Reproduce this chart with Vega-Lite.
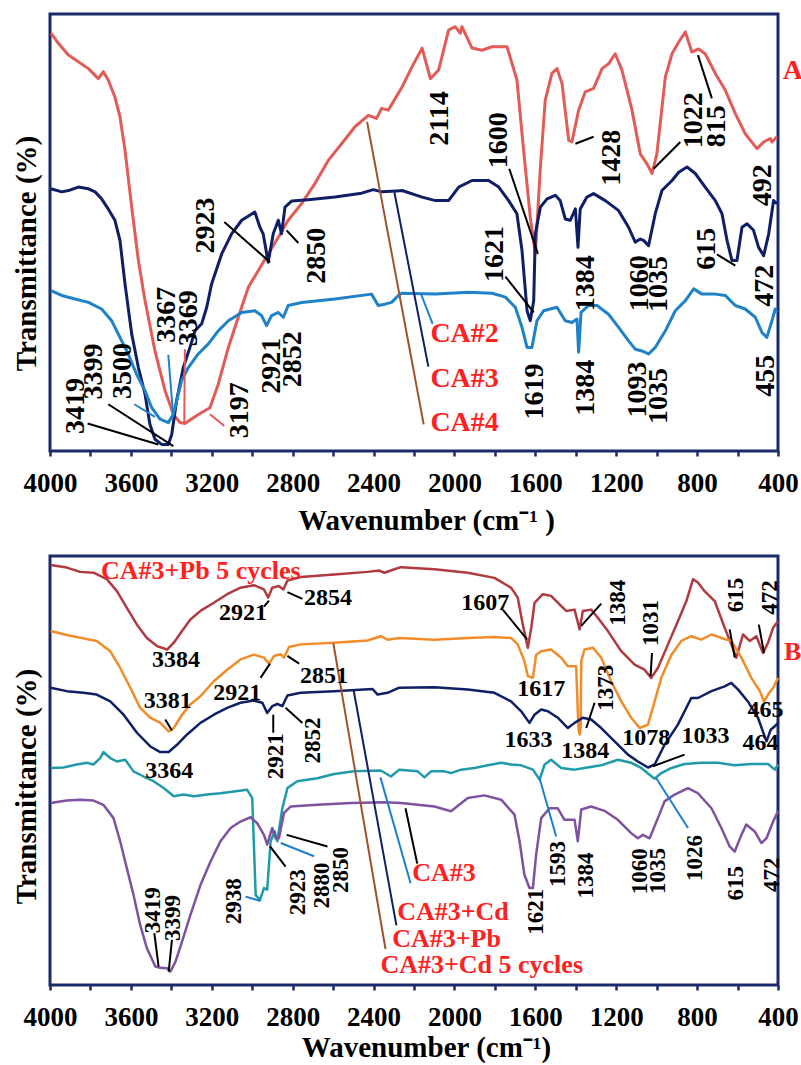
{
"$schema": "https://vega.github.io/schema/vega-lite/v6.json",
"autosize": {"type": "pad"},
"padding": {"left": 10, "top": 12, "right": 0, "bottom": 0},
"background": "white",
"bounds": "flush",
"spacing": 105,
"config": {"view": {"stroke": "#1B2A6B", "strokeWidth": 3}, "font": "Liberation Serif"},
"datasets": {
"topCurves": [
{"series":"CA#4","w":3995,"t":95.6},{"series":"CA#4","w":3959,"t":93.3},{"series":"CA#4","w":3909,"t":90.6},{"series":"CA#4","w":3860,"t":89.1},{"series":"CA#4","w":3810,"t":87.5},{"series":"CA#4","w":3761,"t":85.2},{"series":"CA#4","w":3736,"t":86.8},{"series":"CA#4","w":3712,"t":84.9},{"series":"CA#4","w":3679,"t":81.0},{"series":"CA#4","w":3654,"t":76.5},{"series":"CA#4","w":3629,"t":68.8},{"series":"CA#4","w":3596,"t":55.8},{"series":"CA#4","w":3563,"t":43.6},{"series":"CA#4","w":3530,"t":34.4},{"series":"CA#4","w":3481,"t":22.9},{"series":"CA#4","w":3431,"t":13.8},{"series":"CA#4","w":3390,"t":8.4},{"series":"CA#4","w":3357,"t":6.5},{"series":"CA#4","w":3333,"t":6.3},{"series":"CA#4","w":3291,"t":7.6},{"series":"CA#4","w":3250,"t":8.8},{"series":"CA#4","w":3209,"t":9.9},{"series":"CA#4","w":3168,"t":15.3},{"series":"CA#4","w":3118,"t":23.7},{"series":"CA#4","w":3069,"t":30.6},{"series":"CA#4","w":3019,"t":37.5},{"series":"CA#4","w":2970,"t":41.3},{"series":"CA#4","w":2921,"t":45.1},{"series":"CA#4","w":2871,"t":48.9},{"series":"CA#4","w":2822,"t":52.8},{"series":"CA#4","w":2756,"t":56.6},{"series":"CA#4","w":2690,"t":61.2},{"series":"CA#4","w":2624,"t":66.5},{"series":"CA#4","w":2558,"t":70.3},{"series":"CA#4","w":2492,"t":74.2},{"series":"CA#4","w":2426,"t":76.8},{"series":"CA#4","w":2385,"t":76.1},{"series":"CA#4","w":2360,"t":78.4},{"series":"CA#4","w":2327,"t":78.0},{"series":"CA#4","w":2259,"t":83.3},{"series":"CA#4","w":2210,"t":87.9},{"series":"CA#4","w":2160,"t":92.2},{"series":"CA#4","w":2119,"t":85.2},{"series":"CA#4","w":2078,"t":87.2},{"series":"CA#4","w":2029,"t":96.3},{"series":"CA#4","w":1996,"t":97.1},{"series":"CA#4","w":1971,"t":95.6},{"series":"CA#4","w":1963,"t":97.1},{"series":"CA#4","w":1913,"t":92.2},{"series":"CA#4","w":1864,"t":91.7},{"series":"CA#4","w":1814,"t":92.5},{"series":"CA#4","w":1740,"t":92.5},{"series":"CA#4","w":1691,"t":84.9},{"series":"CA#4","w":1658,"t":68.8},{"series":"CA#4","w":1625,"t":53.5},{"series":"CA#4","w":1600,"t":45.1},{"series":"CA#4","w":1575,"t":65.0},{"series":"CA#4","w":1551,"t":80.3},{"series":"CA#4","w":1518,"t":86.4},{"series":"CA#4","w":1493,"t":87.5},{"series":"CA#4","w":1468,"t":84.1},{"series":"CA#4","w":1435,"t":71.1},{"series":"CA#4","w":1419,"t":70.7},{"series":"CA#4","w":1386,"t":78.0},{"series":"CA#4","w":1353,"t":82.2},{"series":"CA#4","w":1312,"t":83.0},{"series":"CA#4","w":1270,"t":87.5},{"series":"CA#4","w":1238,"t":88.6},{"series":"CA#4","w":1205,"t":90.9},{"series":"CA#4","w":1172,"t":87.2},{"series":"CA#4","w":1122,"t":78.0},{"series":"CA#4","w":1081,"t":68.0},{"series":"CA#4","w":1048,"t":65.7},{"series":"CA#4","w":1023,"t":63.5},{"series":"CA#4","w":999,"t":68.0},{"series":"CA#4","w":957,"t":85.6},{"series":"CA#4","w":924,"t":90.9},{"series":"CA#4","w":891,"t":93.6},{"series":"CA#4","w":858,"t":95.9},{"series":"CA#4","w":826,"t":91.3},{"series":"CA#4","w":793,"t":92.0},{"series":"CA#4","w":760,"t":90.9},{"series":"CA#4","w":710,"t":86.4},{"series":"CA#4","w":661,"t":82.6},{"series":"CA#4","w":611,"t":77.2},{"series":"CA#4","w":562,"t":72.6},{"series":"CA#4","w":504,"t":69.2},{"series":"CA#4","w":471,"t":70.7},{"series":"CA#4","w":438,"t":71.5},{"series":"CA#4","w":430,"t":70.7},{"series":"CA#4","w":405,"t":71.9},
{"series":"CA#3","w":3995,"t":60.0},{"series":"CA#3","w":3942,"t":59.3},{"series":"CA#3","w":3909,"t":59.6},{"series":"CA#3","w":3860,"t":60.4},{"series":"CA#3","w":3810,"t":60.0},{"series":"CA#3","w":3777,"t":59.3},{"series":"CA#3","w":3745,"t":57.7},{"series":"CA#3","w":3712,"t":55.4},{"series":"CA#3","w":3679,"t":52.8},{"series":"CA#3","w":3654,"t":48.2},{"series":"CA#3","w":3629,"t":38.2},{"series":"CA#3","w":3596,"t":26.8},{"series":"CA#3","w":3563,"t":19.1},{"series":"CA#3","w":3530,"t":13.0},{"series":"CA#3","w":3506,"t":6.1},{"series":"CA#3","w":3481,"t":2.7},{"series":"CA#3","w":3448,"t":1.5},{"series":"CA#3","w":3415,"t":1.5},{"series":"CA#3","w":3398,"t":3.8},{"series":"CA#3","w":3374,"t":11.5},{"series":"CA#3","w":3341,"t":19.1},{"series":"CA#3","w":3308,"t":23.7},{"series":"CA#3","w":3283,"t":27.5},{"series":"CA#3","w":3250,"t":29.1},{"series":"CA#3","w":3225,"t":32.9},{"series":"CA#3","w":3201,"t":38.2},{"series":"CA#3","w":3151,"t":45.1},{"series":"CA#3","w":3102,"t":49.7},{"series":"CA#3","w":3052,"t":52.8},{"series":"CA#3","w":2987,"t":54.7},{"series":"CA#3","w":2962,"t":51.2},{"series":"CA#3","w":2946,"t":49.7},{"series":"CA#3","w":2921,"t":43.2},{"series":"CA#3","w":2896,"t":49.7},{"series":"CA#3","w":2871,"t":52.8},{"series":"CA#3","w":2855,"t":49.7},{"series":"CA#3","w":2838,"t":55.8},{"series":"CA#3","w":2805,"t":57.2},{"series":"CA#3","w":2723,"t":57.5},{"series":"CA#3","w":2591,"t":58.1},{"series":"CA#3","w":2459,"t":59.0},{"series":"CA#3","w":2401,"t":59.8},{"series":"CA#3","w":2360,"t":59.3},{"series":"CA#3","w":2286,"t":59.5},{"series":"CA#3","w":2259,"t":59.6},{"series":"CA#3","w":2160,"t":58.1},{"series":"CA#3","w":2094,"t":57.3},{"series":"CA#3","w":2029,"t":57.3},{"series":"CA#3","w":1979,"t":60.4},{"series":"CA#3","w":1913,"t":61.9},{"series":"CA#3","w":1831,"t":61.9},{"series":"CA#3","w":1781,"t":60.4},{"series":"CA#3","w":1732,"t":57.3},{"series":"CA#3","w":1691,"t":54.3},{"series":"CA#3","w":1666,"t":45.9},{"series":"CA#3","w":1641,"t":32.1},{"series":"CA#3","w":1625,"t":29.8},{"series":"CA#3","w":1608,"t":34.4},{"series":"CA#3","w":1600,"t":49.7},{"series":"CA#3","w":1575,"t":55.8},{"series":"CA#3","w":1542,"t":57.7},{"series":"CA#3","w":1501,"t":58.5},{"series":"CA#3","w":1477,"t":57.3},{"series":"CA#3","w":1452,"t":53.1},{"series":"CA#3","w":1427,"t":52.8},{"series":"CA#3","w":1402,"t":55.4},{"series":"CA#3","w":1389,"t":46.6},{"series":"CA#3","w":1378,"t":55.4},{"series":"CA#3","w":1345,"t":58.1},{"series":"CA#3","w":1312,"t":58.9},{"series":"CA#3","w":1254,"t":57.3},{"series":"CA#3","w":1188,"t":55.0},{"series":"CA#3","w":1139,"t":51.2},{"series":"CA#3","w":1106,"t":47.8},{"series":"CA#3","w":1081,"t":48.5},{"series":"CA#3","w":1065,"t":48.2},{"series":"CA#3","w":1040,"t":47.0},{"series":"CA#3","w":1007,"t":54.3},{"series":"CA#3","w":974,"t":59.6},{"series":"CA#3","w":924,"t":61.9},{"series":"CA#3","w":891,"t":63.8},{"series":"CA#3","w":850,"t":65.0},{"series":"CA#3","w":809,"t":63.5},{"series":"CA#3","w":760,"t":60.4},{"series":"CA#3","w":710,"t":57.3},{"series":"CA#3","w":677,"t":54.3},{"series":"CA#3","w":652,"t":48.2},{"series":"CA#3","w":628,"t":43.6},{"series":"CA#3","w":603,"t":43.6},{"series":"CA#3","w":578,"t":51.2},{"series":"CA#3","w":553,"t":52.0},{"series":"CA#3","w":521,"t":50.5},{"series":"CA#3","w":496,"t":46.6},{"series":"CA#3","w":471,"t":44.7},{"series":"CA#3","w":446,"t":49.7},{"series":"CA#3","w":422,"t":57.3},{"series":"CA#3","w":405,"t":56.6},
{"series":"CA#2","w":3995,"t":36.7},{"series":"CA#2","w":3942,"t":35.6},{"series":"CA#2","w":3876,"t":34.8},{"series":"CA#2","w":3810,"t":34.0},{"series":"CA#2","w":3745,"t":32.5},{"series":"CA#2","w":3695,"t":29.8},{"series":"CA#2","w":3654,"t":26.0},{"series":"CA#2","w":3613,"t":22.2},{"series":"CA#2","w":3572,"t":17.6},{"series":"CA#2","w":3530,"t":13.8},{"series":"CA#2","w":3497,"t":9.9},{"series":"CA#2","w":3456,"t":7.3},{"series":"CA#2","w":3415,"t":6.5},{"series":"CA#2","w":3390,"t":8.4},{"series":"CA#2","w":3349,"t":16.1},{"series":"CA#2","w":3316,"t":19.1},{"series":"CA#2","w":3267,"t":22.2},{"series":"CA#2","w":3217,"t":24.5},{"series":"CA#2","w":3168,"t":27.5},{"series":"CA#2","w":3118,"t":29.8},{"series":"CA#2","w":3052,"t":31.7},{"series":"CA#2","w":2987,"t":32.1},{"series":"CA#2","w":2954,"t":31.0},{"series":"CA#2","w":2929,"t":28.7},{"series":"CA#2","w":2904,"t":31.0},{"series":"CA#2","w":2871,"t":31.7},{"series":"CA#2","w":2846,"t":30.6},{"series":"CA#2","w":2822,"t":33.3},{"series":"CA#2","w":2756,"t":34.0},{"series":"CA#2","w":2591,"t":34.8},{"series":"CA#2","w":2410,"t":35.9},{"series":"CA#2","w":2377,"t":33.3},{"series":"CA#2","w":2344,"t":33.6},{"series":"CA#2","w":2311,"t":34.0},{"series":"CA#2","w":2270,"t":35.9},{"series":"CA#2","w":2259,"t":36.1},{"series":"CA#2","w":2094,"t":35.9},{"series":"CA#2","w":1930,"t":36.3},{"series":"CA#2","w":1814,"t":36.1},{"series":"CA#2","w":1748,"t":35.2},{"series":"CA#2","w":1699,"t":32.9},{"series":"CA#2","w":1666,"t":28.3},{"series":"CA#2","w":1641,"t":23.7},{"series":"CA#2","w":1617,"t":23.7},{"series":"CA#2","w":1592,"t":29.8},{"series":"CA#2","w":1559,"t":32.1},{"series":"CA#2","w":1526,"t":32.5},{"series":"CA#2","w":1493,"t":32.9},{"series":"CA#2","w":1452,"t":29.8},{"series":"CA#2","w":1419,"t":29.4},{"series":"CA#2","w":1394,"t":30.2},{"series":"CA#2","w":1386,"t":22.6},{"series":"CA#2","w":1374,"t":31.7},{"series":"CA#2","w":1336,"t":33.3},{"series":"CA#2","w":1295,"t":33.3},{"series":"CA#2","w":1238,"t":31.3},{"series":"CA#2","w":1188,"t":28.3},{"series":"CA#2","w":1139,"t":25.2},{"series":"CA#2","w":1106,"t":23.3},{"series":"CA#2","w":1073,"t":22.9},{"series":"CA#2","w":1040,"t":22.2},{"series":"CA#2","w":1007,"t":23.7},{"series":"CA#2","w":957,"t":27.5},{"series":"CA#2","w":908,"t":32.1},{"series":"CA#2","w":858,"t":34.4},{"series":"CA#2","w":817,"t":37.1},{"series":"CA#2","w":776,"t":35.9},{"series":"CA#2","w":710,"t":35.9},{"series":"CA#2","w":661,"t":35.6},{"series":"CA#2","w":611,"t":33.3},{"series":"CA#2","w":562,"t":32.5},{"series":"CA#2","w":512,"t":30.6},{"series":"CA#2","w":479,"t":27.1},{"series":"CA#2","w":455,"t":26.0},{"series":"CA#2","w":430,"t":29.8},{"series":"CA#2","w":414,"t":32.5},{"series":"CA#2","w":405,"t":31.7}
],
"topLeaders": [
{"kind":"peak","w":3814,"t":6.3,"w2":3464,"t2":1.5},
{"kind":"peak","w":3712,"t":10.7,"w2":3390,"t2":1.1},
{"kind":"CA#2","w":3583,"t":10.7,"w2":3481,"t2":7.8},
{"kind":"CA#2","w":3415,"t":22.0,"w2":3390,"t2":7.6},
{"kind":"CA#4","w":3333,"t":23.3,"w2":3336,"t2":6.5},
{"kind":"peak","w":3138,"t":52.4,"w2":2912,"t2":43.2},
{"kind":"peak","w":2830,"t":50.5,"w2":2772,"t2":47.6},
{"kind":"CA#4","w":3209,"t":8.4,"w2":3138,"t2":5.7},
{"kind":"CA#4 label","w":2432,"t":75.3,"w2":2152,"t2":6.1},
{"kind":"CA#3","w":2297,"t":59.2,"w2":2129,"t2":19.3},
{"kind":"CA#2","w":2165,"t":35.9,"w2":2108,"t2":29.1},
{"kind":"peak","w":1729,"t":64.6,"w2":1587,"t2":45.1},
{"kind":"peak","w":1402,"t":70.3,"w2":1312,"t2":71.9},
{"kind":"peak","w":883,"t":70.7,"w2":1015,"t2":64.6},
{"kind":"peak","w":796,"t":90.6,"w2":727,"t2":80.7},
{"kind":"peak","w":1748,"t":39.9,"w2":1608,"t2":31.7},
{"kind":"peak","w":702,"t":45.0,"w2":611,"t2":42.4}
],
"topLabels": [
{"label":"3419","w":3873,"t":10.3},{"label":"3399","w":3781,"t":18.2},{"label":"3500","w":3637,"t":18.3},{"label":"3367","w":3420,"t":31.2},{"label":"3369","w":3313,"t":30.4},{"label":"2923","w":3230,"t":51.6},{"label":"2850","w":2678,"t":44.7},{"label":"3197","w":3061,"t":9.3},{"label":"2921","w":2904,"t":19.5},{"label":"2852","w":2800,"t":21.0},{"label":"2114","w":2070,"t":76.1},{"label":"1600","w":1781,"t":71.1},{"label":"1428","w":1221,"t":67.1},{"label":"1022","w":817,"t":75.7},{"label":"815","w":702,"t":74.3},{"label":"492","w":476,"t":60.8},{"label":"1621","w":1798,"t":45.1},{"label":"1384","w":1350,"t":38.4},{"label":"1060","w":1081,"t":38.4},{"label":"1035","w":987,"t":38.2},{"label":"615","w":751,"t":46.3},{"label":"472","w":463,"t":37.8},{"label":"1619","w":1600,"t":13.6},{"label":"1384","w":1350,"t":14.5},{"label":"1093","w":1094,"t":14.1},{"label":"1035","w":990,"t":12.6},{"label":"455","w":460,"t":17.2}
],
"topNames": [
{"label":"CA#2","w":2119,"t":26.8},{"label":"CA#3","w":2119,"t":16.4},{"label":"CA#4","w":2119,"t":6.5},{"label":"A","w":377,"t":87.0}
],
"botCurves": [
{"series":"CA#3+Pb 5 cycles","w":3997,"t":97.9},{"series":"CA#3+Pb 5 cycles","w":3917,"t":97.3},{"series":"CA#3+Pb 5 cycles","w":3851,"t":96.3},{"series":"CA#3+Pb 5 cycles","w":3785,"t":96.1},{"series":"CA#3+Pb 5 cycles","w":3719,"t":94.6},{"series":"CA#3+Pb 5 cycles","w":3669,"t":91.8},{"series":"CA#3+Pb 5 cycles","w":3620,"t":87.9},{"series":"CA#3+Pb 5 cycles","w":3570,"t":84.0},{"series":"CA#3+Pb 5 cycles","w":3521,"t":80.9},{"series":"CA#3+Pb 5 cycles","w":3471,"t":79.0},{"series":"CA#3+Pb 5 cycles","w":3421,"t":78.2},{"series":"CA#3+Pb 5 cycles","w":3388,"t":79.8},{"series":"CA#3+Pb 5 cycles","w":3347,"t":82.5},{"series":"CA#3+Pb 5 cycles","w":3306,"t":85.2},{"series":"CA#3+Pb 5 cycles","w":3256,"t":87.2},{"series":"CA#3+Pb 5 cycles","w":3190,"t":89.1},{"series":"CA#3+Pb 5 cycles","w":3124,"t":91.1},{"series":"CA#3+Pb 5 cycles","w":3058,"t":92.6},{"series":"CA#3+Pb 5 cycles","w":2992,"t":93.2},{"series":"CA#3+Pb 5 cycles","w":2942,"t":92.2},{"series":"CA#3+Pb 5 cycles","w":2921,"t":90.3},{"series":"CA#3+Pb 5 cycles","w":2901,"t":92.6},{"series":"CA#3+Pb 5 cycles","w":2868,"t":93.0},{"series":"CA#3+Pb 5 cycles","w":2846,"t":92.2},{"series":"CA#3+Pb 5 cycles","w":2826,"t":94.3},{"series":"CA#3+Pb 5 cycles","w":2760,"t":95.1},{"series":"CA#3+Pb 5 cycles","w":2595,"t":95.7},{"series":"CA#3+Pb 5 cycles","w":2430,"t":96.3},{"series":"CA#3+Pb 5 cycles","w":2372,"t":96.6},{"series":"CA#3+Pb 5 cycles","w":2347,"t":96.1},{"series":"CA#3+Pb 5 cycles","w":2297,"t":96.9},{"series":"CA#3+Pb 5 cycles","w":2264,"t":97.4},{"series":"CA#3+Pb 5 cycles","w":2099,"t":96.9},{"series":"CA#3+Pb 5 cycles","w":1934,"t":96.1},{"series":"CA#3+Pb 5 cycles","w":1802,"t":94.9},{"series":"CA#3+Pb 5 cycles","w":1720,"t":92.6},{"series":"CA#3+Pb 5 cycles","w":1687,"t":90.3},{"series":"CA#3+Pb 5 cycles","w":1662,"t":84.0},{"series":"CA#3+Pb 5 cycles","w":1637,"t":78.6},{"series":"CA#3+Pb 5 cycles","w":1620,"t":83.3},{"series":"CA#3+Pb 5 cycles","w":1604,"t":89.1},{"series":"CA#3+Pb 5 cycles","w":1563,"t":91.1},{"series":"CA#3+Pb 5 cycles","w":1522,"t":90.7},{"series":"CA#3+Pb 5 cycles","w":1480,"t":88.7},{"series":"CA#3+Pb 5 cycles","w":1447,"t":87.2},{"series":"CA#3+Pb 5 cycles","w":1406,"t":87.5},{"series":"CA#3+Pb 5 cycles","w":1381,"t":82.9},{"series":"CA#3+Pb 5 cycles","w":1365,"t":87.2},{"series":"CA#3+Pb 5 cycles","w":1324,"t":87.5},{"series":"CA#3+Pb 5 cycles","w":1291,"t":85.6},{"series":"CA#3+Pb 5 cycles","w":1241,"t":82.5},{"series":"CA#3+Pb 5 cycles","w":1175,"t":77.8},{"series":"CA#3+Pb 5 cycles","w":1109,"t":74.7},{"series":"CA#3+Pb 5 cycles","w":1060,"t":73.5},{"series":"CA#3+Pb 5 cycles","w":1027,"t":71.6},{"series":"CA#3+Pb 5 cycles","w":994,"t":73.9},{"series":"CA#3+Pb 5 cycles","w":944,"t":79.4},{"series":"CA#3+Pb 5 cycles","w":895,"t":84.8},{"series":"CA#3+Pb 5 cycles","w":853,"t":89.5},{"series":"CA#3+Pb 5 cycles","w":820,"t":94.6},{"series":"CA#3+Pb 5 cycles","w":796,"t":93.8},{"series":"CA#3+Pb 5 cycles","w":763,"t":91.8},{"series":"CA#3+Pb 5 cycles","w":713,"t":89.5},{"series":"CA#3+Pb 5 cycles","w":664,"t":83.3},{"series":"CA#3+Pb 5 cycles","w":631,"t":79.4},{"series":"CA#3+Pb 5 cycles","w":606,"t":76.3},{"series":"CA#3+Pb 5 cycles","w":573,"t":81.7},{"series":"CA#3+Pb 5 cycles","w":540,"t":80.2},{"series":"CA#3+Pb 5 cycles","w":507,"t":81.3},{"series":"CA#3+Pb 5 cycles","w":474,"t":77.4},{"series":"CA#3+Pb 5 cycles","w":449,"t":79.8},{"series":"CA#3+Pb 5 cycles","w":424,"t":83.3},{"series":"CA#3+Pb 5 cycles","w":400,"t":84.8},
{"series":"CA#3+Cd 5 cycles","w":3997,"t":82.5},{"series":"CA#3+Cd 5 cycles","w":3917,"t":81.6},{"series":"CA#3+Cd 5 cycles","w":3835,"t":80.8},{"series":"CA#3+Cd 5 cycles","w":3769,"t":80.2},{"series":"CA#3+Cd 5 cycles","w":3702,"t":77.8},{"series":"CA#3+Cd 5 cycles","w":3653,"t":73.9},{"series":"CA#3+Cd 5 cycles","w":3603,"t":69.3},{"series":"CA#3+Cd 5 cycles","w":3554,"t":64.6},{"series":"CA#3+Cd 5 cycles","w":3504,"t":62.3},{"series":"CA#3+Cd 5 cycles","w":3455,"t":61.1},{"series":"CA#3+Cd 5 cycles","w":3413,"t":59.1},{"series":"CA#3+Cd 5 cycles","w":3388,"t":59.9},{"series":"CA#3+Cd 5 cycles","w":3347,"t":63.0},{"series":"CA#3+Cd 5 cycles","w":3306,"t":65.4},{"series":"CA#3+Cd 5 cycles","w":3256,"t":67.3},{"series":"CA#3+Cd 5 cycles","w":3190,"t":70.8},{"series":"CA#3+Cd 5 cycles","w":3124,"t":73.5},{"series":"CA#3+Cd 5 cycles","w":3058,"t":75.9},{"series":"CA#3+Cd 5 cycles","w":2992,"t":77.0},{"series":"CA#3+Cd 5 cycles","w":2942,"t":76.3},{"series":"CA#3+Cd 5 cycles","w":2917,"t":74.9},{"series":"CA#3+Cd 5 cycles","w":2892,"t":76.7},{"series":"CA#3+Cd 5 cycles","w":2859,"t":77.1},{"series":"CA#3+Cd 5 cycles","w":2843,"t":76.3},{"series":"CA#3+Cd 5 cycles","w":2818,"t":78.8},{"series":"CA#3+Cd 5 cycles","w":2760,"t":79.4},{"series":"CA#3+Cd 5 cycles","w":2595,"t":79.8},{"series":"CA#3+Cd 5 cycles","w":2430,"t":80.3},{"series":"CA#3+Cd 5 cycles","w":2364,"t":81.3},{"series":"CA#3+Cd 5 cycles","w":2331,"t":80.5},{"series":"CA#3+Cd 5 cycles","w":2273,"t":80.9},{"series":"CA#3+Cd 5 cycles","w":2099,"t":80.5},{"series":"CA#3+Cd 5 cycles","w":1934,"t":80.9},{"series":"CA#3+Cd 5 cycles","w":1802,"t":81.1},{"series":"CA#3+Cd 5 cycles","w":1720,"t":80.9},{"series":"CA#3+Cd 5 cycles","w":1687,"t":79.4},{"series":"CA#3+Cd 5 cycles","w":1654,"t":75.5},{"series":"CA#3+Cd 5 cycles","w":1637,"t":72.0},{"series":"CA#3+Cd 5 cycles","w":1612,"t":71.6},{"series":"CA#3+Cd 5 cycles","w":1596,"t":77.0},{"series":"CA#3+Cd 5 cycles","w":1571,"t":77.8},{"series":"CA#3+Cd 5 cycles","w":1522,"t":78.2},{"series":"CA#3+Cd 5 cycles","w":1472,"t":76.3},{"series":"CA#3+Cd 5 cycles","w":1439,"t":74.3},{"series":"CA#3+Cd 5 cycles","w":1398,"t":74.3},{"series":"CA#3+Cd 5 cycles","w":1387,"t":60.0},{"series":"CA#3+Cd 5 cycles","w":1381,"t":58.4},{"series":"CA#3+Cd 5 cycles","w":1376,"t":60.0},{"series":"CA#3+Cd 5 cycles","w":1373,"t":75.5},{"series":"CA#3+Cd 5 cycles","w":1357,"t":78.2},{"series":"CA#3+Cd 5 cycles","w":1315,"t":78.6},{"series":"CA#3+Cd 5 cycles","w":1274,"t":76.3},{"series":"CA#3+Cd 5 cycles","w":1225,"t":70.8},{"series":"CA#3+Cd 5 cycles","w":1175,"t":66.1},{"series":"CA#3+Cd 5 cycles","w":1126,"t":62.3},{"series":"CA#3+Cd 5 cycles","w":1084,"t":59.9},{"series":"CA#3+Cd 5 cycles","w":1043,"t":60.7},{"series":"CA#3+Cd 5 cycles","w":1010,"t":66.1},{"series":"CA#3+Cd 5 cycles","w":977,"t":71.6},{"series":"CA#3+Cd 5 cycles","w":927,"t":77.0},{"series":"CA#3+Cd 5 cycles","w":878,"t":80.2},{"series":"CA#3+Cd 5 cycles","w":829,"t":81.3},{"series":"CA#3+Cd 5 cycles","w":779,"t":80.5},{"series":"CA#3+Cd 5 cycles","w":729,"t":81.7},{"series":"CA#3+Cd 5 cycles","w":680,"t":80.9},{"series":"CA#3+Cd 5 cycles","w":631,"t":80.2},{"series":"CA#3+Cd 5 cycles","w":581,"t":76.3},{"series":"CA#3+Cd 5 cycles","w":532,"t":71.6},{"series":"CA#3+Cd 5 cycles","w":490,"t":68.5},{"series":"CA#3+Cd 5 cycles","w":469,"t":66.1},{"series":"CA#3+Cd 5 cycles","w":449,"t":67.7},{"series":"CA#3+Cd 5 cycles","w":424,"t":69.3},{"series":"CA#3+Cd 5 cycles","w":400,"t":71.6},
{"series":"CA#3+Pb","w":3997,"t":69.3},{"series":"CA#3+Pb","w":3917,"t":68.5},{"series":"CA#3+Pb","w":3835,"t":68.1},{"series":"CA#3+Pb","w":3769,"t":67.7},{"series":"CA#3+Pb","w":3702,"t":66.1},{"series":"CA#3+Pb","w":3636,"t":63.0},{"series":"CA#3+Pb","w":3570,"t":58.8},{"series":"CA#3+Pb","w":3504,"t":55.6},{"series":"CA#3+Pb","w":3455,"t":54.3},{"series":"CA#3+Pb","w":3413,"t":54.3},{"series":"CA#3+Pb","w":3372,"t":56.0},{"series":"CA#3+Pb","w":3322,"t":58.4},{"series":"CA#3+Pb","w":3256,"t":61.1},{"series":"CA#3+Pb","w":3190,"t":63.0},{"series":"CA#3+Pb","w":3124,"t":64.6},{"series":"CA#3+Pb","w":3058,"t":65.8},{"series":"CA#3+Pb","w":2992,"t":66.3},{"series":"CA#3+Pb","w":2950,"t":65.8},{"series":"CA#3+Pb","w":2926,"t":63.4},{"series":"CA#3+Pb","w":2901,"t":65.0},{"series":"CA#3+Pb","w":2876,"t":65.5},{"series":"CA#3+Pb","w":2851,"t":65.0},{"series":"CA#3+Pb","w":2826,"t":67.5},{"series":"CA#3+Pb","w":2760,"t":68.1},{"series":"CA#3+Pb","w":2595,"t":68.5},{"series":"CA#3+Pb","w":2405,"t":69.0},{"series":"CA#3+Pb","w":2380,"t":67.7},{"series":"CA#3+Pb","w":2331,"t":68.1},{"series":"CA#3+Pb","w":2273,"t":69.3},{"series":"CA#3+Pb","w":2099,"t":69.4},{"series":"CA#3+Pb","w":1934,"t":68.9},{"series":"CA#3+Pb","w":1802,"t":68.1},{"series":"CA#3+Pb","w":1720,"t":66.1},{"series":"CA#3+Pb","w":1670,"t":63.8},{"series":"CA#3+Pb","w":1629,"t":61.1},{"series":"CA#3+Pb","w":1604,"t":63.0},{"series":"CA#3+Pb","w":1571,"t":64.2},{"series":"CA#3+Pb","w":1538,"t":63.8},{"series":"CA#3+Pb","w":1489,"t":62.3},{"series":"CA#3+Pb","w":1439,"t":59.9},{"series":"CA#3+Pb","w":1406,"t":61.1},{"series":"CA#3+Pb","w":1365,"t":62.3},{"series":"CA#3+Pb","w":1324,"t":61.9},{"series":"CA#3+Pb","w":1274,"t":59.9},{"series":"CA#3+Pb","w":1208,"t":56.8},{"series":"CA#3+Pb","w":1142,"t":53.7},{"series":"CA#3+Pb","w":1093,"t":52.1},{"series":"CA#3+Pb","w":1043,"t":50.7},{"series":"CA#3+Pb","w":1010,"t":51.4},{"series":"CA#3+Pb","w":961,"t":56.0},{"series":"CA#3+Pb","w":895,"t":60.7},{"series":"CA#3+Pb","w":829,"t":66.9},{"series":"CA#3+Pb","w":796,"t":66.9},{"series":"CA#3+Pb","w":729,"t":68.5},{"series":"CA#3+Pb","w":664,"t":69.6},{"series":"CA#3+Pb","w":631,"t":70.4},{"series":"CA#3+Pb","w":598,"t":68.9},{"series":"CA#3+Pb","w":549,"t":66.1},{"series":"CA#3+Pb","w":499,"t":62.3},{"series":"CA#3+Pb","w":457,"t":56.8},{"series":"CA#3+Pb","w":436,"t":59.5},{"series":"CA#3+Pb","w":416,"t":60.3},{"series":"CA#3+Pb","w":400,"t":61.1},
{"series":"CA#3+Cd","w":3997,"t":50.6},{"series":"CA#3+Cd","w":3934,"t":50.7},{"series":"CA#3+Cd","w":3868,"t":51.4},{"series":"CA#3+Cd","w":3818,"t":51.8},{"series":"CA#3+Cd","w":3785,"t":51.4},{"series":"CA#3+Cd","w":3752,"t":52.9},{"series":"CA#3+Cd","w":3736,"t":54.3},{"series":"CA#3+Cd","w":3702,"t":52.9},{"series":"CA#3+Cd","w":3669,"t":52.1},{"series":"CA#3+Cd","w":3628,"t":52.5},{"series":"CA#3+Cd","w":3587,"t":49.8},{"series":"CA#3+Cd","w":3537,"t":48.6},{"series":"CA#3+Cd","w":3488,"t":47.5},{"series":"CA#3+Cd","w":3438,"t":45.9},{"series":"CA#3+Cd","w":3388,"t":44.0},{"series":"CA#3+Cd","w":3339,"t":44.4},{"series":"CA#3+Cd","w":3289,"t":44.0},{"series":"CA#3+Cd","w":3223,"t":44.4},{"series":"CA#3+Cd","w":3157,"t":44.7},{"series":"CA#3+Cd","w":3091,"t":45.1},{"series":"CA#3+Cd","w":3025,"t":45.5},{"series":"CA#3+Cd","w":3000,"t":43.6},{"series":"CA#3+Cd","w":2983,"t":21.0},{"series":"CA#3+Cd","w":2962,"t":19.8},{"series":"CA#3+Cd","w":2942,"t":22.6},{"series":"CA#3+Cd","w":2926,"t":22.2},{"series":"CA#3+Cd","w":2909,"t":33.5},{"series":"CA#3+Cd","w":2889,"t":35.8},{"series":"CA#3+Cd","w":2876,"t":33.5},{"series":"CA#3+Cd","w":2851,"t":41.2},{"series":"CA#3+Cd","w":2826,"t":45.9},{"series":"CA#3+Cd","w":2777,"t":47.5},{"series":"CA#3+Cd","w":2678,"t":48.2},{"series":"CA#3+Cd","w":2595,"t":49.2},{"series":"CA#3+Cd","w":2496,"t":49.8},{"series":"CA#3+Cd","w":2364,"t":50.0},{"series":"CA#3+Cd","w":2314,"t":48.6},{"series":"CA#3+Cd","w":2273,"t":50.2},{"series":"CA#3+Cd","w":2182,"t":49.8},{"series":"CA#3+Cd","w":2148,"t":48.4},{"series":"CA#3+Cd","w":2116,"t":49.8},{"series":"CA#3+Cd","w":2050,"t":49.8},{"series":"CA#3+Cd","w":2017,"t":49.4},{"series":"CA#3+Cd","w":1967,"t":50.2},{"series":"CA#3+Cd","w":1901,"t":50.6},{"series":"CA#3+Cd","w":1835,"t":51.2},{"series":"CA#3+Cd","w":1769,"t":51.8},{"series":"CA#3+Cd","w":1720,"t":51.4},{"series":"CA#3+Cd","w":1670,"t":51.2},{"series":"CA#3+Cd","w":1612,"t":50.2},{"series":"CA#3+Cd","w":1579,"t":47.9},{"series":"CA#3+Cd","w":1554,"t":51.4},{"series":"CA#3+Cd","w":1522,"t":52.5},{"series":"CA#3+Cd","w":1472,"t":50.6},{"series":"CA#3+Cd","w":1406,"t":50.2},{"series":"CA#3+Cd","w":1357,"t":50.6},{"series":"CA#3+Cd","w":1274,"t":51.2},{"series":"CA#3+Cd","w":1192,"t":52.5},{"series":"CA#3+Cd","w":1126,"t":51.8},{"series":"CA#3+Cd","w":1076,"t":50.6},{"series":"CA#3+Cd","w":1035,"t":49.0},{"series":"CA#3+Cd","w":1010,"t":48.1},{"series":"CA#3+Cd","w":977,"t":49.4},{"series":"CA#3+Cd","w":927,"t":50.6},{"series":"CA#3+Cd","w":862,"t":51.5},{"series":"CA#3+Cd","w":779,"t":51.8},{"series":"CA#3+Cd","w":697,"t":51.8},{"series":"CA#3+Cd","w":614,"t":51.2},{"series":"CA#3+Cd","w":532,"t":51.5},{"series":"CA#3+Cd","w":449,"t":51.5},{"series":"CA#3+Cd","w":416,"t":50.2},{"series":"CA#3+Cd","w":400,"t":51.4},
{"series":"CA#3","w":3997,"t":42.4},{"series":"CA#3","w":3917,"t":43.0},{"series":"CA#3","w":3851,"t":43.2},{"series":"CA#3","w":3785,"t":43.0},{"series":"CA#3","w":3736,"t":42.0},{"series":"CA#3","w":3686,"t":38.9},{"series":"CA#3","w":3653,"t":33.5},{"series":"CA#3","w":3620,"t":27.2},{"series":"CA#3","w":3587,"t":21.0},{"series":"CA#3","w":3554,"t":14.0},{"series":"CA#3","w":3521,"t":8.6},{"series":"CA#3","w":3479,"t":4.3},{"series":"CA#3","w":3455,"t":4.0},{"series":"CA#3","w":3421,"t":3.9},{"series":"CA#3","w":3405,"t":3.1},{"series":"CA#3","w":3380,"t":5.4},{"series":"CA#3","w":3347,"t":10.1},{"series":"CA#3","w":3306,"t":16.3},{"series":"CA#3","w":3256,"t":23.3},{"series":"CA#3","w":3206,"t":28.8},{"series":"CA#3","w":3157,"t":33.5},{"series":"CA#3","w":3107,"t":36.6},{"series":"CA#3","w":3058,"t":38.1},{"series":"CA#3","w":3008,"t":39.1},{"series":"CA#3","w":2975,"t":37.7},{"series":"CA#3","w":2942,"t":35.0},{"series":"CA#3","w":2926,"t":32.7},{"series":"CA#3","w":2901,"t":36.6},{"series":"CA#3","w":2884,"t":34.2},{"series":"CA#3","w":2868,"t":34.2},{"series":"CA#3","w":2843,"t":40.1},{"series":"CA#3","w":2810,"t":41.6},{"series":"CA#3","w":2678,"t":42.0},{"series":"CA#3","w":2512,"t":42.4},{"series":"CA#3","w":2347,"t":42.6},{"series":"CA#3","w":2264,"t":42.4},{"series":"CA#3","w":2099,"t":41.6},{"series":"CA#3","w":2017,"t":40.5},{"series":"CA#3","w":1934,"t":43.6},{"series":"CA#3","w":1852,"t":44.2},{"series":"CA#3","w":1769,"t":43.2},{"series":"CA#3","w":1703,"t":39.7},{"series":"CA#3","w":1678,"t":33.5},{"series":"CA#3","w":1654,"t":25.7},{"series":"CA#3","w":1629,"t":22.6},{"series":"CA#3","w":1612,"t":22.6},{"series":"CA#3","w":1596,"t":30.4},{"series":"CA#3","w":1571,"t":38.9},{"series":"CA#3","w":1530,"t":41.2},{"series":"CA#3","w":1489,"t":41.2},{"series":"CA#3","w":1456,"t":38.5},{"series":"CA#3","w":1406,"t":38.5},{"series":"CA#3","w":1390,"t":33.5},{"series":"CA#3","w":1373,"t":40.9},{"series":"CA#3","w":1324,"t":41.6},{"series":"CA#3","w":1258,"t":40.6},{"series":"CA#3","w":1192,"t":38.5},{"series":"CA#3","w":1126,"t":35.4},{"series":"CA#3","w":1093,"t":34.2},{"series":"CA#3","w":1068,"t":35.0},{"series":"CA#3","w":1035,"t":34.2},{"series":"CA#3","w":994,"t":38.9},{"series":"CA#3","w":961,"t":42.8},{"series":"CA#3","w":911,"t":44.4},{"series":"CA#3","w":845,"t":45.9},{"series":"CA#3","w":796,"t":44.7},{"series":"CA#3","w":729,"t":41.2},{"series":"CA#3","w":680,"t":36.6},{"series":"CA#3","w":639,"t":32.3},{"series":"CA#3","w":614,"t":31.1},{"series":"CA#3","w":581,"t":35.0},{"series":"CA#3","w":557,"t":37.4},{"series":"CA#3","w":515,"t":35.8},{"series":"CA#3","w":482,"t":33.1},{"series":"CA#3","w":457,"t":34.2},{"series":"CA#3","w":424,"t":38.1},{"series":"CA#3","w":400,"t":40.5}
],
"botLeaders": [
{"kind":"peak","w":2942,"t":88.2,"w2":2917,"t2":89.6},
{"kind":"peak","w":2826,"t":91.6,"w2":2752,"t2":90.0},
{"kind":"peak","w":2959,"t":71.6,"w2":2912,"t2":74.9},
{"kind":"peak","w":2826,"t":76.7,"w2":2768,"t2":74.9},
{"kind":"peak","w":3430,"t":61.9,"w2":3397,"t2":59.3},
{"kind":"peak","w":2896,"t":63.0,"w2":2896,"t2":58.8},
{"kind":"peak","w":2835,"t":64.6,"w2":2752,"t2":61.1},
{"kind":"CA#3+Cd","w":3033,"t":20.6,"w2":2959,"t2":19.6},
{"kind":"peak","w":2912,"t":32.3,"w2":2835,"t2":27.6},
{"kind":"CA#3+Cd","w":2859,"t":33.1,"w2":2694,"t2":30.0},
{"kind":"peak","w":2830,"t":35.0,"w2":2628,"t2":32.3},
{"kind":"peak","w":3484,"t":12.1,"w2":3463,"t2":4.3},
{"kind":"peak","w":3397,"t":10.5,"w2":3413,"t2":3.1},
{"kind":"CA#3+Cd 5 cycles","w":2599,"t":79.7,"w2":2341,"t2":8.4},
{"kind":"CA#3+Pb","w":2498,"t":68.6,"w2":2287,"t2":13.9},
{"kind":"CA#3+Cd","w":2366,"t":48.4,"w2":2217,"t2":23.7},
{"kind":"peak","w":2242,"t":41.2,"w2":2184,"t2":28.3},
{"kind":"peak","w":1761,"t":87.5,"w2":1640,"t2":80.5},
{"kind":"peak","w":1373,"t":83.7,"w2":1274,"t2":88.9},
{"kind":"peak","w":1023,"t":77.4,"w2":1030,"t2":72.0},
{"kind":"peak","w":639,"t":82.9,"w2":614,"t2":76.3},
{"kind":"peak","w":495,"t":84.0,"w2":469,"t2":77.4},
{"kind":"peak","w":1348,"t":59.9,"w2":1307,"t2":65.8},
{"kind":"peak","w":1018,"t":51.0,"w2":862,"t2":53.7},
{"kind":"CA#3+Cd","w":1579,"t":48.2,"w2":1497,"t2":34.6},
{"kind":"CA#3+Cd","w":1002,"t":48.2,"w2":845,"t2":36.6}
],
"botRotLabels": [
{"label":"1384","w":1191,"t":89.1},{"label":"1031","w":1027,"t":84.4},{"label":"615","w":606,"t":90.9},{"label":"472","w":441,"t":90.3},{"label":"1373","w":1249,"t":69.3},{"label":"2921","w":2881,"t":53.3},{"label":"2852","w":2699,"t":57.0},{"label":"2938","w":3088,"t":19.5},{"label":"2923","w":2773,"t":21.6},{"label":"2880","w":2653,"t":23.2},{"label":"2850","w":2559,"t":26.8},{"label":"3419","w":3493,"t":17.4},{"label":"3399","w":3393,"t":15.6},{"label":"1593","w":1488,"t":28.2},{"label":"1384","w":1348,"t":25.5},{"label":"1060","w":1084,"t":26.5},{"label":"1035","w":994,"t":26.6},{"label":"1026","w":812,"t":29.6},{"label":"615","w":606,"t":23.7},{"label":"472","w":432,"t":25.7},{"label":"1621","w":1596,"t":17.1}
],
"botFlatLabels": [
{"label":"2921","w":3046,"t":86.8},{"label":"2854","w":2625,"t":90.3},{"label":"3384","w":3377,"t":75.7},{"label":"2851","w":2645,"t":72.0},{"label":"2921","w":3074,"t":68.1},{"label":"3381","w":3418,"t":66.1},{"label":"3364","w":3410,"t":49.8},{"label":"1607","w":1848,"t":89.1},{"label":"1617","w":1571,"t":68.9},{"label":"1633","w":1634,"t":57.2},{"label":"1384","w":1353,"t":54.5},{"label":"1078","w":1051,"t":57.6},{"label":"1033","w":759,"t":58.0},{"label":"465","w":462,"t":64.2},{"label":"464","w":487,"t":56.4}
],
"botNames": [
{"label":"CA#3+Pb 5 cycles","w":3748,"t":96.5},{"label":"CA#3","w":2209,"t":26.0},{"label":"CA#3+Cd","w":2283,"t":17.1},{"label":"CA#3+Pb","w":2308,"t":10.8},{"label":"CA#3+Cd 5 cycles","w":2366,"t":4.6},{"label":"B","w":370,"t":77.7}
]
},
"vconcat": [
{
"width": 728, "height": 437,
"encoding": {
"x": {"field": "w", "type": "quantitative", "scale": {"domain": [400, 4000], "reverse": true, "nice": false, "zero": false},
 "axis": {"title": "Wavenumber (cm⁻¹ )", "values": [400,600,800,1000,1200,1400,1600,1800,2000,2200,2400,2600,2800,3000,3200,3400,3600,3800,4000], "format": "d", "labelExpr": "datum.value % 400 === 0 ? datum.label : ''", "labelFont": "Liberation Serif", "labelFontSize": 27, "labelFontWeight": "bold", "labelColor": "black", "labelPadding": 14, "labelOverlap": false, "labelFlush": false, "labelBound": false, "tickColor": "#1B2A6B", "tickWidth": 2.5, "tickSize": 5, "domain": false, "grid": false, "titleFont": "Liberation Serif", "titleFontSize": 29, "titleFontWeight": "bold", "titleColor": "black", "titleX": 376, "titleY": 55, "titleBaseline": "top"}},
"y": {"field": "t", "type": "quantitative", "scale": {"domain": [0, 100], "nice": false, "zero": false},
 "axis": {"title": "Transmittance (%)", "labels": false, "ticks": false, "domain": false, "grid": false, "titleFont": "Liberation Serif", "titleFontSize": 29, "titleFontWeight": "bold", "titleColor": "black", "titleAngle": 270, "titleX": -24, "titleY": 239, "titleAlign": "center", "titleBaseline": "middle"}}
},
"layer": [
{"data": {"name": "topCurves"}, "mark": {"type": "line", "strokeWidth": 3, "strokeJoin": "round"},
 "encoding": {"color": {"field": "series", "type": "nominal", "scale": {"domain": ["CA#4","CA#3","CA#2"], "range": ["#E35B57","#0F1F66","#1F82C8"]}, "legend": null}}},
{"data": {"name": "topLeaders"}, "mark": {"type": "rule", "strokeWidth": 2},
 "encoding": {"x2": {"field": "w2"}, "y2": {"field": "t2"}, "color": {"field": "kind", "type": "nominal", "scale": {"domain": ["peak","CA#2","CA#3","CA#4","CA#4 label"], "range": ["#000000","#1F82C8","#0F1F66","#E35B57","#A0522D"]}, "legend": null}}},
{"data": {"name": "topLabels"}, "mark": {"type": "text", "angle": 270, "align": "center", "baseline": "middle", "font": "Liberation Serif", "fontWeight": "bold", "fontSize": 28, "color": "black"},
 "encoding": {"text": {"field": "label"}}},
{"data": {"name": "topNames"}, "mark": {"type": "text", "align": "left", "baseline": "middle", "font": "Liberation Serif", "fontWeight": "bold", "fontSize": 28, "color": "#FF2020"},
 "encoding": {"text": {"field": "label"}}}
],
"resolve": {"scale": {"color": "independent"}}
},
{
"width": 728, "height": 429,
"encoding": {
"x": {"field": "w", "type": "quantitative", "scale": {"domain": [400, 4000], "reverse": true, "nice": false, "zero": false},
 "axis": {"title": "Wavenumber (cm⁻¹)", "values": [400,600,800,1000,1200,1400,1600,1800,2000,2200,2400,2600,2800,3000,3200,3400,3600,3800,4000], "format": "d", "labelExpr": "datum.value % 400 === 0 ? datum.label : ''", "labelFont": "Liberation Serif", "labelFontSize": 27, "labelFontWeight": "bold", "labelColor": "black", "labelPadding": 14, "labelOverlap": false, "labelFlush": false, "labelBound": false, "tickColor": "#1B2A6B", "tickWidth": 2.5, "tickSize": 5, "domain": false, "grid": false, "titleFont": "Liberation Serif", "titleFontSize": 29, "titleFontWeight": "bold", "titleColor": "black", "titleX": 376, "titleY": 48, "titleBaseline": "top"}},
"y": {"field": "t", "type": "quantitative", "scale": {"domain": [0, 100], "nice": false, "zero": false},
 "axis": {"title": "Transmittance (%)", "labels": false, "ticks": false, "domain": false, "grid": false, "titleFont": "Liberation Serif", "titleFontSize": 29, "titleFontWeight": "bold", "titleColor": "black", "titleAngle": 270, "titleX": -24, "titleY": 230, "titleAlign": "center", "titleBaseline": "middle"}}
},
"layer": [
{"data": {"name": "botCurves"}, "mark": {"type": "line", "strokeWidth": 2.5, "strokeJoin": "round"},
 "encoding": {"color": {"field": "series", "type": "nominal", "scale": {"domain": ["CA#3+Pb 5 cycles","CA#3+Cd 5 cycles","CA#3+Pb","CA#3+Cd","CA#3"], "range": ["#B03A3E","#F28C28","#0F1F66","#1E9AA8","#7E52A0"]}, "legend": null}}},
{"data": {"name": "botLeaders"}, "mark": {"type": "rule", "strokeWidth": 2},
 "encoding": {"x2": {"field": "w2"}, "y2": {"field": "t2"}, "color": {"field": "kind", "type": "nominal", "scale": {"domain": ["peak","CA#3+Cd","CA#3+Pb","CA#3+Cd 5 cycles"], "range": ["#000000","#1C7FD0","#0F1F66","#A0522D"]}, "legend": null}}},
{"data": {"name": "botRotLabels"}, "mark": {"type": "text", "angle": 270, "align": "center", "baseline": "middle", "font": "Liberation Serif", "fontWeight": "bold", "fontSize": 23, "color": "black"},
 "encoding": {"text": {"field": "label"}}},
{"data": {"name": "botFlatLabels"}, "mark": {"type": "text", "align": "center", "baseline": "middle", "font": "Liberation Serif", "fontWeight": "bold", "fontSize": 24, "color": "black"},
 "encoding": {"text": {"field": "label"}}},
{"data": {"name": "botNames"}, "mark": {"type": "text", "align": "left", "baseline": "middle", "font": "Liberation Serif", "fontWeight": "bold", "fontSize": 26, "color": "#FF2020"},
 "encoding": {"text": {"field": "label"}}}
],
"resolve": {"scale": {"color": "independent"}}
}
]
}
